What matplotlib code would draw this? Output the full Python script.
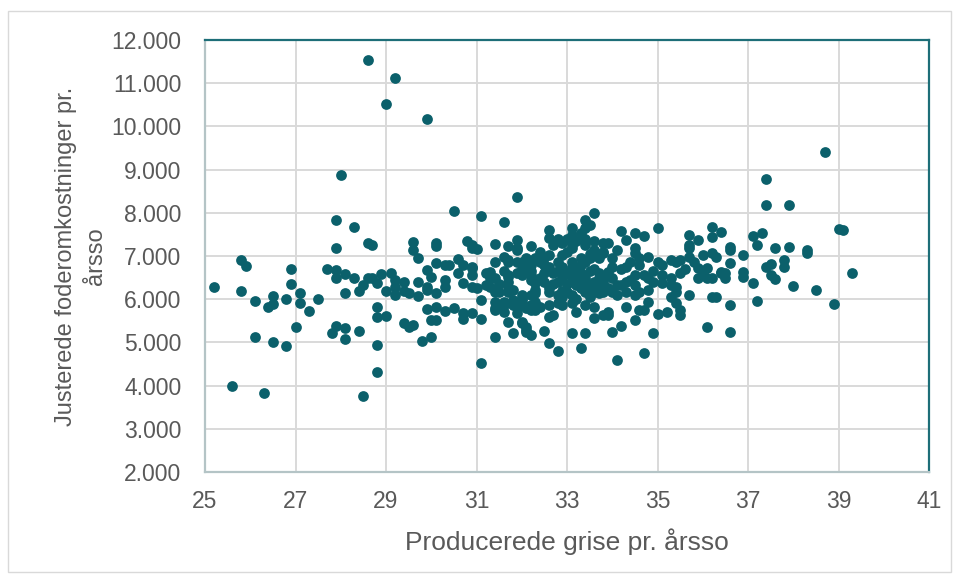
import numpy as np
import matplotlib
matplotlib.use("Agg")
import matplotlib.pyplot as plt
from matplotlib.ticker import FuncFormatter, MultipleLocator, FixedLocator
from matplotlib.patches import Rectangle

plt.rcParams["font.family"] = ["Liberation Sans", "DejaVu Sans"]

# data, grouped by x range
venstre_x = [27.9, 28.3, 27.9, 28.6, 28.7,
             25.8, 25.9, 26.9, 27.7, 27.9,
             27.9, 28.1, 28.3, 28.6, 28.5,
             28.4, 28.1, 25.2, 25.8, 26.9,
             27.1, 26.5, 26.1, 26.8, 27.1,
             27.5, 26.5, 26.4, 27.3, 27.0,
             27.9, 27.8, 28.1, 28.4, 28.1,
             26.1, 26.5, 26.8, 25.6, 26.3,
             28.5, 28.0]
venstre_y = [7830, 7670, 7190, 7300, 7250,
             6910, 6770, 6700, 6700, 6680,
             6490, 6580, 6490, 6490, 6330,
             6190, 6140, 6280, 6190, 6350,
             6140, 6070, 5960, 6000, 5910,
             6000, 5890, 5820, 5730, 5360,
             5380, 5220, 5330, 5270, 5080,
             5130, 5010, 4920, 3990, 3830,
             3760, 8880]

b_x = [28.6, 29.2, 29.0, 29.9, 30.5,
       31.1, 31.6, 31.9, 29.6, 29.6,
       30.1, 30.1, 30.8, 31.0, 29.7,
       30.1, 30.3, 30.4, 30.6, 30.7,
       30.9, 28.9, 29.1, 28.7, 28.8,
       29.4, 29.2, 29.9, 30.0, 29.7,
       30.3, 30.3, 30.6, 30.7, 29.0,
       29.2, 29.2, 29.4, 29.5, 29.7,
       29.9, 29.9, 30.1, 31.0, 31.1,
       28.8, 28.8, 29.0, 29.4, 29.5,
       29.6, 29.9, 30.1, 30.3, 30.5,
       30.0, 30.1, 30.7, 30.7, 30.9,
       31.1, 29.8, 30.0, 28.8, 28.8,
       31.1, 30.9, 30.9, 30.9, 30.9,
       30.9]
b_y = [11540, 11120, 10520, 10170, 8040,
       7930, 7790, 8360, 7330, 7140,
       7300, 7230, 7350, 7160, 6950,
       6840, 6790, 6790, 6930, 6790,
       6720, 6580, 6610, 6490, 6380,
       6400, 6440, 6680, 6510, 6400,
       6440, 6280, 6610, 6380, 6190,
       6280, 6100, 6190, 6140, 6070,
       6280, 6210, 6140, 6260, 5980,
       5820, 5590, 5610, 5450, 5360,
       5400, 5770, 5820, 5730, 5800,
       5520, 5520, 5680, 5540, 5680,
       5540, 5030, 5120, 4940, 4310,
       4520, 7250, 7190, 6740, 6560,
       6280]

c_x = [31.4, 31.7, 31.9, 31.9, 32.2,
       31.9, 31.7, 31.9, 32.1, 31.4,
       31.6, 31.7, 32.0, 32.1, 32.2,
       31.2, 31.3, 31.3, 31.4, 31.4,
       31.6, 31.7, 31.7, 31.7, 31.8,
       31.9, 31.3, 31.4, 31.2, 31.7,
       31.7, 32.0, 32.2, 32.3, 31.5,
       31.8, 32.0, 32.2, 32.3, 31.4,
       31.6, 31.8, 32.0, 32.2, 31.6,
       31.9, 32.1, 32.3, 31.4, 32.0,
       32.1, 32.2, 31.8, 31.4, 31.7,
       32.0, 32.1, 32.1, 32.0, 32.1,
       32.2, 32.3, 32.3, 32.2]
c_y = [7280, 7230, 7370, 7140, 7230,
       7190, 6860, 6860, 6840, 6860,
       6980, 6910, 6860, 6950, 6790,
       6610, 6490, 6280, 6170, 5800,
       5870, 6510, 6280, 6170, 5980,
       5820, 6630, 6490, 6330, 6560,
       6400, 6560, 6560, 6380, 6170,
       6210, 6100, 6100, 6140, 5940,
       5940, 5870, 5980, 5870, 5700,
       5680, 5800, 5750, 5750, 5470,
       5290, 5170, 5220, 5130, 5470,
       5450, 5360, 5240, 6030, 5820,
       5750, 5940, 6210, 6440]

d_x = [33.6, 33.4, 33.5, 33.4, 33.1,
       33.1, 33.3, 32.6, 32.6, 32.8,
       33.1, 33.1, 33.4, 33.6, 33.8,
       32.6, 32.4, 32.6, 32.9, 32.9,
       33.1, 33.3, 33.4, 33.7, 32.4,
       32.8, 32.6, 32.9, 33.1, 33.2,
       33.4, 33.6, 33.8, 32.6, 32.8,
       33.0, 33.1, 33.4, 33.6, 33.7,
       32.4, 32.6, 32.8, 32.9, 33.1,
       33.4, 33.6, 32.6, 32.7, 33.2,
       33.6, 32.5, 32.6, 32.8, 33.1,
       33.4, 33.3, 33.8,
       32.5, 32.7, 32.8, 33.0, 33.2,
       33.3, 33.5, 33.5, 33.6, 33.2,
       33.0, 32.7, 32.5, 33.5, 33.6,
       33.7, 33.9, 33.3, 33.5, 33.0,
       32.4, 32.2, 32.0, 31.9, 31.6,
       31.5, 32.5, 32.9, 33.2, 33.5,
       32.7, 32.9, 33.0, 33.2, 33.4,
       33.6, 33.8, 32.3, 32.5, 32.8,
       33.1, 33.3, 33.7, 32.9, 33.4]
d_y = [8000, 7830, 7720, 7650, 7650,
       7490, 7530, 7600, 7420, 7400,
       7250, 7190, 7250, 7140, 7090,
       7020, 6860, 6740, 7020, 6740,
       6860, 6950, 6860, 6950, 6490,
       6400, 6260, 6490, 6510, 6330,
       6490, 6400, 6490, 6170, 6100,
       6170, 6100, 6170, 6170, 6140,
       5820, 5870, 5910, 5870, 5910,
       5870, 5820, 5590, 5630, 5700,
       5560, 5260, 4990, 4800, 5220,
       5220, 4870, 5630,
       6950, 6600, 6650, 6600, 6700,
       6600, 6650, 6300, 6250, 6450,
       6350, 6350, 6600, 6950, 6700,
       6500, 6250, 6250, 7050, 7100,
       7100, 6650, 6700, 6600, 6650,
       6350, 6400, 6050, 6000, 6050,
       7250, 7300, 7400, 7350, 7400,
       7350, 7300, 6950, 6800, 6850,
       6750, 6800, 6600, 6200, 6350]

e_x = [35.0, 34.2, 34.3, 34.5, 34.7,
       35.7, 35.7, 35.7, 35.9, 36.2,
       36.4, 36.2, 36.6, 36.6, 33.9,
       34.1, 33.8, 34.0, 34.5, 34.5,
       34.6, 34.8, 34.4, 34.3, 34.6,
       34.5, 34.7, 35.0, 35.1, 35.3,
       35.4, 35.5, 35.7, 35.8, 36.0,
       36.2, 36.3, 35.9, 36.1, 36.1,
       35.9, 36.4, 36.5, 33.9, 33.8,
       33.8, 33.8, 34.1, 34.2, 34.0,
       34.1, 34.3, 34.5, 34.3, 34.5,
       34.6, 34.8, 34.8, 34.7, 34.8,
       34.9, 35.1, 35.1, 35.3, 35.4,
       35.4, 35.3, 35.4, 35.5, 35.5,
       35.7, 35.2, 35.0, 34.6, 34.5,
       34.3, 33.9, 33.9, 34.2, 34.0,
       34.9, 34.7, 34.1, 36.2, 36.3,
       36.6, 36.1, 36.6,
       34.0, 34.2, 34.0, 34.4, 34.9,
       35.3, 35.5, 35.6, 36.0, 36.5]
e_y = [7650, 7580, 7370, 7530, 7460,
       7490, 7260, 7190, 7370, 7670,
       7560, 7440, 7210, 6840, 7300,
       7140, 7070, 6950, 7190, 7070,
       6950, 6980, 6860, 6740, 6790,
       6560, 6560, 6860, 6790, 6910,
       6860, 6910, 6980, 6860, 7020,
       7070, 6980, 6720, 6720, 6490,
       6490, 6610, 6610, 6630, 6400,
       6330, 6170, 6330, 6330, 6170,
       6100, 6400, 6330, 6170, 6100,
       6170, 6210, 5940, 5750, 6490,
       6400, 6560, 6380, 6330, 6280,
       6170, 6050, 5910, 5750, 5630,
       6100, 5700, 5650, 5750, 5520,
       5820, 5700, 5630, 5380, 5240,
       5220, 4750, 4600, 6050, 6050,
       5870, 5360, 5240,
       6500, 6700, 6750, 6450, 6650,
       6500, 6600, 6700, 6600, 6500]

hoejre_x = [37.1, 37.3, 36.6, 37.2, 37.6,
            37.9, 38.3, 38.3, 39.0, 39.1,
            36.9, 37.8, 37.8, 37.4, 37.5,
            37.5, 37.6, 36.4, 36.9, 36.9,
            36.2, 37.1, 38.0, 38.5, 38.9,
            39.3, 37.2, 38.7, 37.4, 37.4,
            37.9]
hoejre_y = [7460, 7530, 7140, 7250, 7190,
            7210, 7140, 7070, 7620, 7600,
            7020, 6910, 6740, 6740, 6810,
            6560, 6470, 6630, 6630, 6510,
            6490, 6380, 6310, 6210, 5890,
            6610, 5960, 9410, 8780, 8180,
            8180]

x_ticks = [25, 27, 29, 31, 33, 35, 37, 39, 41]

grise = np.concatenate([venstre_x, b_x, c_x, d_x, e_x, hoejre_x])
omkostninger = np.concatenate([venstre_y, b_y, c_y, d_y, e_y, hoejre_y])

fig = plt.figure(figsize=(9.59, 5.79), dpi=100)
ax = fig.add_axes([205/959, 1 - 472/579, 724/959, 432/579])

ax.scatter(grise, omkostninger, s=60, color="#0b606b", zorder=3, linewidths=0)

ax.set_xlim(25, 41)
ax.set_ylim(2000, 12000)
ax.xaxis.set_major_locator(FixedLocator(x_ticks))
ax.yaxis.set_major_locator(MultipleLocator(1000))
ax.yaxis.set_major_formatter(FuncFormatter(lambda v, p: f"{int(v):,}".replace(",", ".")))

ax.grid(True, color="#d9d9d9", linewidth=1.4, zorder=0)
ax.set_axisbelow(True)
ax.tick_params(length=0, labelsize=16.5, labelcolor="#595959")
ax.tick_params(axis="y", pad=17)
ax.tick_params(axis="x", pad=13)

for side in ["top", "right"]:
    ax.spines[side].set_color("#1d6e78")
    ax.spines[side].set_linewidth(1.6)
for side in ["left", "bottom"]:
    ax.spines[side].set_color("#b4c4c6")
    ax.spines[side].set_linewidth(1.6)

ax.set_xlabel("Producerede grise pr. årsso", fontsize=19, color="#595959", labelpad=11)
ax.set_ylabel("Justerede foderomkostninger pr.\nårsso", fontsize=17, color="#595959",
              labelpad=3, linespacing=1.45)

fig.patches.append(Rectangle((8/959, 1 - 572/579), 943/959, 561/579, transform=fig.transFigure,
                             fill=False, edgecolor="#d9d9d9", linewidth=1.0))

fig.savefig("out.png", dpi=100)
